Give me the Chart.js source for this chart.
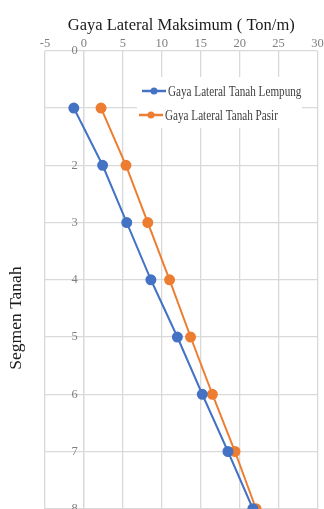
<!DOCTYPE html>
<html>
<head>
<meta charset="utf-8">
<script src="https://cdn.jsdelivr.net/npm/chart.js@4/dist/chart.umd.min.js"></script>
<style>
  html, body { margin: 0; padding: 0; background: #fff; overflow: hidden; }
  #wrap { position: relative; width: 324px; height: 580px; }
</style>
</head>
<body>
<div id="wrap"><canvas id="c"></canvas></div>
<script>
// Soil segments (depth order, top to bottom)
const segmen = [1, 2, 3, 4, 5, 6, 7, 8];
// Maximum lateral force per segment (Ton/m)
const lempung = [-1.3, 2.4, 5.5, 8.6, 12.0, 15.2, 18.5, 21.7];
const pasir   = [2.2, 5.4, 8.2, 11.0, 13.7, 16.5, 19.4, 22.1];

const seriesNames = ['Gaya Lateral Tanah Lempung', 'Gaya Lateral Tanah Pasir'];
const xTickValues = [-5, 0, 5, 10, 15, 20, 25, 30];
const yTickValues = [0, 1, 2, 3, 4, 5, 6, 7, 8, 9];
const xTitle = 'Gaya Lateral Maksimum ( Ton/m)';
const yTitle = 'Segmen Tanah';

const BLUE = '#4472C4';
const ORANGE = '#ED7D31';
const GRID = '#d9d9d9';
const TICK = '#7f7f7f';
const SERIF = '"Liberation Serif", "Times New Roman", serif';

const toPoints = (xs) => xs.map((v, i) => ({ x: v, y: segmen[i] }));

// Rotated axis title and the boxed legend inside the plot
const decor = {
  id: 'decor',
  afterDraw(chart) {
    const ctx = chart.ctx;
    ctx.save();
    ctx.translate(16, 318);
    ctx.rotate(-Math.PI / 2);
    ctx.font = '17.5px ' + SERIF;
    ctx.fillStyle = '#1a1a1a';
    ctx.textAlign = 'center';
    ctx.textBaseline = 'middle';
    ctx.fillText(yTitle, 0, 0);
    ctx.restore();

    ctx.save();
    ctx.fillStyle = '#ffffff';
    ctx.fillRect(137, 77, 165, 51);
    const rows = [
      { ds: chart.data.datasets[0], x: 142, y: 91 },
      { ds: chart.data.datasets[1], x: 139, y: 115 }
    ];
    rows.forEach(r => {
      ctx.strokeStyle = r.ds.borderColor;
      ctx.lineWidth = 2.5;
      ctx.beginPath();
      ctx.moveTo(r.x, r.y);
      ctx.lineTo(r.x + 24, r.y);
      ctx.stroke();
      ctx.fillStyle = r.ds.backgroundColor;
      ctx.beginPath();
      ctx.arc(r.x + 12, r.y, 3.5, 0, Math.PI * 2);
      ctx.fill();
      ctx.save();
      ctx.translate(r.x + 26, r.y);
      ctx.scale(0.72, 1);
      ctx.font = '15.5px ' + SERIF;
      ctx.fillStyle = '#404040';
      ctx.textAlign = 'left';
      ctx.textBaseline = 'middle';
      ctx.fillText(r.ds.label, 0, 1);
      ctx.restore();
    });
    ctx.restore();
  }
};

new Chart(document.getElementById('c'), {
  type: 'scatter',
  data: {
    datasets: [
      {
        label: seriesNames[0],
        data: toPoints(lempung),
        showLine: true,
        borderColor: BLUE,
        backgroundColor: BLUE,
        borderWidth: 2,
        pointRadius: 4.5,
        pointHoverRadius: 4.5
      },
      {
        label: seriesNames[1],
        data: toPoints(pasir),
        showLine: true,
        borderColor: ORANGE,
        backgroundColor: ORANGE,
        borderWidth: 2,
        pointRadius: 4.5,
        pointHoverRadius: 4.5
      }
    ]
  },
  options: {
    responsive: true,
    maintainAspectRatio: false,
    animation: false,
    events: [],
    layout: { padding: { left: 45, right: 4, top: 16, bottom: 14 } },
    plugins: {
      legend: { display: false },
      tooltip: { enabled: false }
    },
    scales: {
      x: {
        type: 'linear',
        position: 'top',
        min: -5,
        max: 30,
        afterBuildTicks: (s) => { s.ticks = xTickValues.map(v => ({ value: v })); },
        grid: { color: GRID, lineWidth: 1.3, drawTicks: false },
        border: { display: false },
        ticks: { color: TICK, font: { family: SERIF, size: 12.5 }, padding: 0 },
        title: {
          display: true,
          text: xTitle,
          color: '#1a1a1a',
          font: { family: SERIF, size: 16.5 },
          padding: { top: 0, bottom: 0 }
        }
      },
      y: {
        type: 'linear',
        position: { x: 0 },
        reverse: true,
        min: 0,
        max: 9,
        afterBuildTicks: (s) => { s.ticks = yTickValues.map(v => ({ value: v })); },
        grid: { color: GRID, lineWidth: 1.3, drawTicks: false },
        border: { display: true, color: GRID, width: 1.3 },
        // labels sit right-aligned on the crossing line; an en space keeps a small gap
        ticks: {
          color: TICK,
          font: { family: SERIF, size: 12.5 },
          callback: (v) => v + '\u2002'
        }
      }
    }
  },
  plugins: [decor]
});
</script>
</body>
</html>
